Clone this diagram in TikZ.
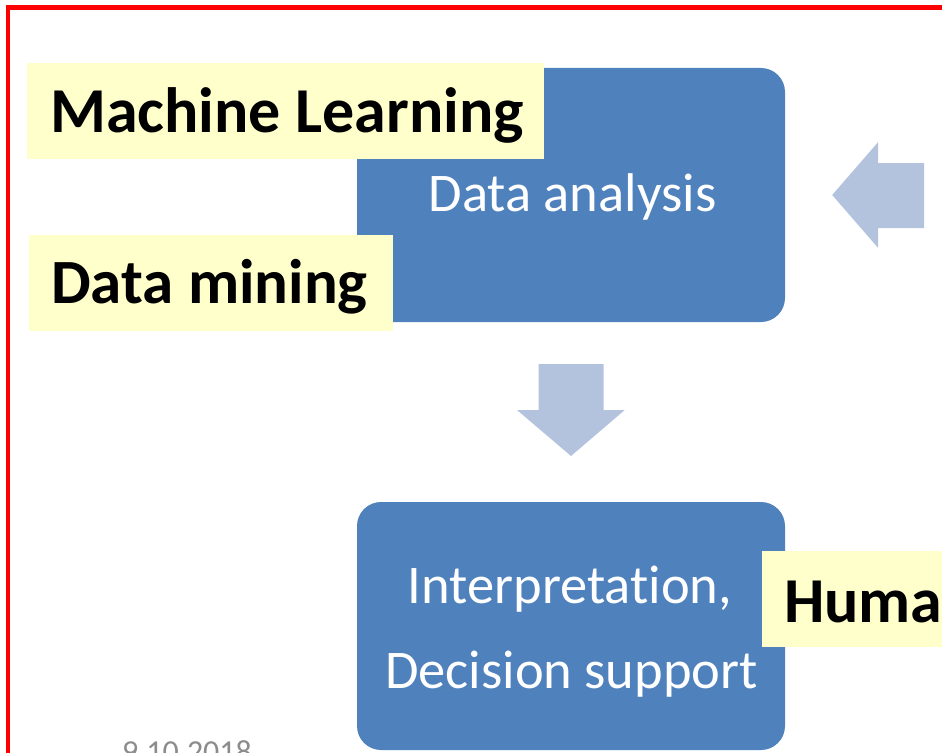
\documentclass[tikz,border=0pt]{standalone}
\usepackage{fontspec}
\setmainfont{Carlito}[Ligatures=NoCommon]
\definecolor{boxblue}{HTML}{4F81BD}
\definecolor{arrowblue}{HTML}{B3C3DE}
\definecolor{notebg}{HTML}{FFFFCC}
\definecolor{dategray}{HTML}{8C8C8C}
\definecolor{framered}{HTML}{FF0000}
\begin{document}
\begin{tikzpicture}[x=1pt,y=-1pt,
  stagebox/.style={fill=boxblue,draw=none,rounded corners=24pt,inner sep=0pt},
  stagetext/.style={text=white,inner sep=0pt,anchor=base,font=\fontsize{54.5}{60}\selectfont},
  notebox/.style={fill=notebg,draw=none,inner sep=0pt},
  notetext/.style={text=black,inner sep=0pt,anchor=base west,font=\fontsize{64}{70}\selectfont\bfseries},
  flowarrow/.style={fill=arrowblue,draw=none}]
\useasboundingbox (0,0) rectangle (942,752);

% outer frame (only its top and left edges fall on the page)
\draw[framered,line width=4.5pt] (8,7.5) rectangle (1100,900);

% process stages
\node[stagebox,minimum width=428pt,minimum height=254pt] (analysis) at (571,195) {};
\node[stagebox,minimum width=428pt,minimum height=248pt] (interp) at (571,626) {};
\node[stagetext] (analysisText) at (572.5,211) {Data analysis};
\node[stagetext] (interpText1) at (570,603) {Interpretation,};
\node[stagetext] (interpText2) at (571.5,688) {Decision support};

% block arrows between stages
\path (analysis.south) ++(0,42) coordinate (dTop);
\fill[flowarrow] (dTop) ++(-32.5,0) -- ++(65,0) -- ++(0,46) -- ++(21,0)
  -- (571,456) -- (517,410) -- (538.5,410) -- cycle;
\path (analysis.east) ++(47,0) coordinate (lTip);
\fill[flowarrow] (lTip) -- ++(46,-53) -- ++(0,21) -- ++(46,0) -- ++(0,65)
  -- ++(-46,0) -- ++(0,20) -- cycle;

% highlighted labels
\node[notebox,minimum width=517pt,minimum height=96pt] (mlBox) at (285.5,111) {};
\node[notetext] (mlText) at (50,132) {Machine Learning};
\node[notebox,minimum width=364pt,minimum height=96pt] (dmBox) at (211,283) {};
\node[notetext,font=\fontsize{63}{70}\selectfont\bfseries] (dmText) at (51,303) {Data mining};
\node[notebox,minimum width=260pt,minimum height=96pt] (humanBox) at (892,599) {};
\node[notetext] (humanText) at (784,622) {Human};

% footer date
\node[text=dategray,inner sep=0pt,anchor=base west,font=\fontsize{32}{36}\selectfont] (date) at (122,762) {9.10.2018};
\end{tikzpicture}
\end{document}
